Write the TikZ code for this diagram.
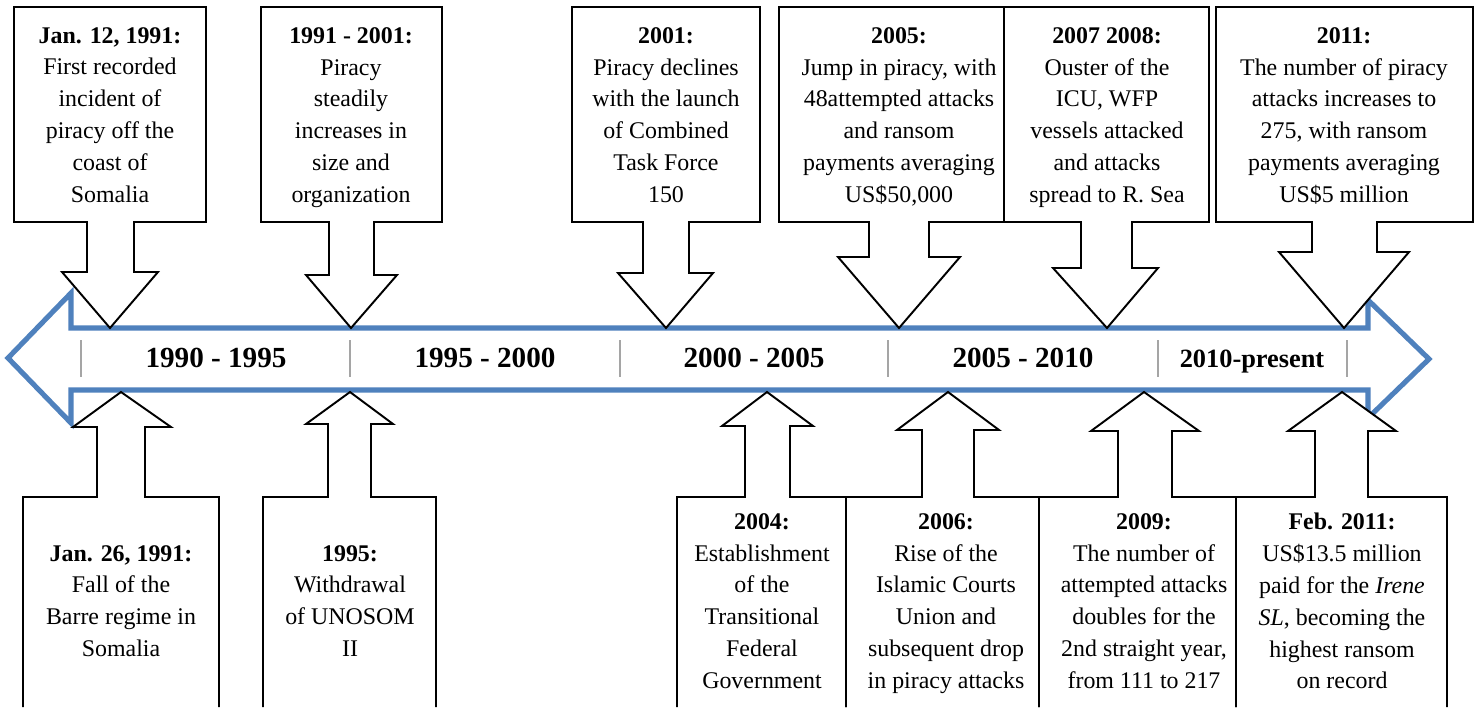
\documentclass[tikz,border=0pt]{standalone}
\usepackage{fontspec}
\setmainfont{Liberation Serif}
\definecolor{lineblue}{RGB}{79,129,189}
\definecolor{sepgray}{RGB}{165,165,165}
\tikzset{
    callout/.style={draw=black,line width=1.1pt,fill=white},
    eventtext/.style={align=center,font=\fontsize{13.6}{18.1}\selectfont,inner sep=0pt,anchor=north},
    periodtext/.style={inner sep=0pt,anchor=base}
}

\begin{document}
\begin{tikzpicture}[x=0.02cm,y=-0.02cm]
        \useasboundingbox (0,0) rectangle (1476,707);
        \draw[lineblue,line width=2.9pt,fill=white] (8,358) -- (71,293) -- (71,328) -- (1368,328) -- (1368,300) -- (1429,359) -- (1368,418) -- (1368,390) -- (71,390) -- (71,423) -- cycle;
        \foreach \x in {81,350,620,888,1158,1347}{
                \draw[sepgray,line width=1.5pt] (\x,340) -- (\x,377);
        };
        \foreach \x/\s/\t/\n in {216/16.6/1990 - 1995/pa,485/16.6/1995 - 2000/pb,754/16.6/2000 - 2005/pc,1023/16.6/2005 - 2010/pd,1252/15/2010-present/pe}{
                \node[periodtext,font=\fontsize{\s}{20}\selectfont\bfseries] (\n) at (\x,367) {\t};
        };
        \foreach \bl/\br/\sl/\sr/\hy/\hl/\hr/\tx in {14/206/87/134/272/62/158/110,261/442/329/374/275/306/397/351,572/760/643/689/273/618/713/666,779/1019/869/929/257/838/960/899,1004/1209/1081/1132/268/1053/1158/1107,1216/1473/1312/1377/252/1279/1409/1344}{
                \draw[callout] (\bl,7) -- (\br,7) -- (\br,222) -- (\sr,222) -- (\sr,\hy) -- (\hr,\hy) -- (\tx,328) -- (\hl,\hy) -- (\sl,\hy) -- (\sl,222) -- (\bl,222) -- cycle;
        };
        \foreach \bl/\br/\sl/\sr/\hy/\hl/\hr/\tx in {23/219/97/145/427/73/171/121,263/436/328/371/424/306/393/350,677/846/745/790/426/722/813/767,846/1039/922/974/430/897/999/948,1039/1236/1118/1172/431/1091/1199/1144,1236/1447/1315/1368/431/1288/1396/1342}{
                \draw[callout] (\bl,707) -- (\bl,497) -- (\sl,497) -- (\sl,\hy) -- (\hl,\hy) -- (\tx,392) -- (\hr,\hy) -- (\sr,\hy) -- (\sr,497) -- (\br,497) -- (\br,707);
        };
        \node[eventtext] (jan12) at (110,27) {\textbf{Jan. 12, 1991:}\\First recorded\\incident of\\piracy off the\\coast of\\Somalia};
        \node[eventtext] (yr9101) at (351,27) {\textbf{1991 - 2001:}\\Piracy\\steadily\\increases in\\size and\\organization};
        \node[eventtext] (yr2001) at (666,27) {\textbf{2001:}\\Piracy declines\\with the launch\\of Combined\\Task Force\\150};
        \node[eventtext] (yr2005) at (899,27) {\textbf{2005:}\\Jump in piracy, with\\48attempted attacks\\and ransom\\payments averaging\\US\$50,000};
        \node[eventtext] (yr0708) at (1107,27) {\textbf{2007 2008:}\\Ouster of the\\ICU, WFP\\vessels attacked\\and attacks\\spread to R. Sea};
        \node[eventtext] (yr2011) at (1344,27) {\textbf{2011:}\\The number of piracy\\attacks increases to\\275, with ransom\\payments averaging\\US\$5 million};
        \node[eventtext] (jan26) at (121,545) {\textbf{Jan. 26, 1991:}\\Fall of the\\Barre regime in\\Somalia};
        \node[eventtext] (yr1995) at (350,545) {\textbf{1995:}\\Withdrawal\\of UNOSOM\\II};
        \node[eventtext] (yr2004) at (762,513) {\textbf{2004:}\\Establishment\\of the\\Transitional\\Federal\\Government};
        \node[eventtext] (yr2006) at (946,513) {\textbf{2006:}\\Rise of the\\Islamic Courts\\Union and\\subsequent drop\\in piracy attacks};
        \node[eventtext] (yr2009) at (1144,513) {\textbf{2009:}\\The number of\\attempted attacks\\doubles for the\\2nd straight year,\\from 111 to 217};
        \node[eventtext] (feb11) at (1342,513) {\textbf{Feb. 2011:}\\US\$13.5 million\\paid for the \textit{Irene}\\\textit{SL}, becoming the\\highest ransom\\on record};
    \end{tikzpicture}
\end{document}
